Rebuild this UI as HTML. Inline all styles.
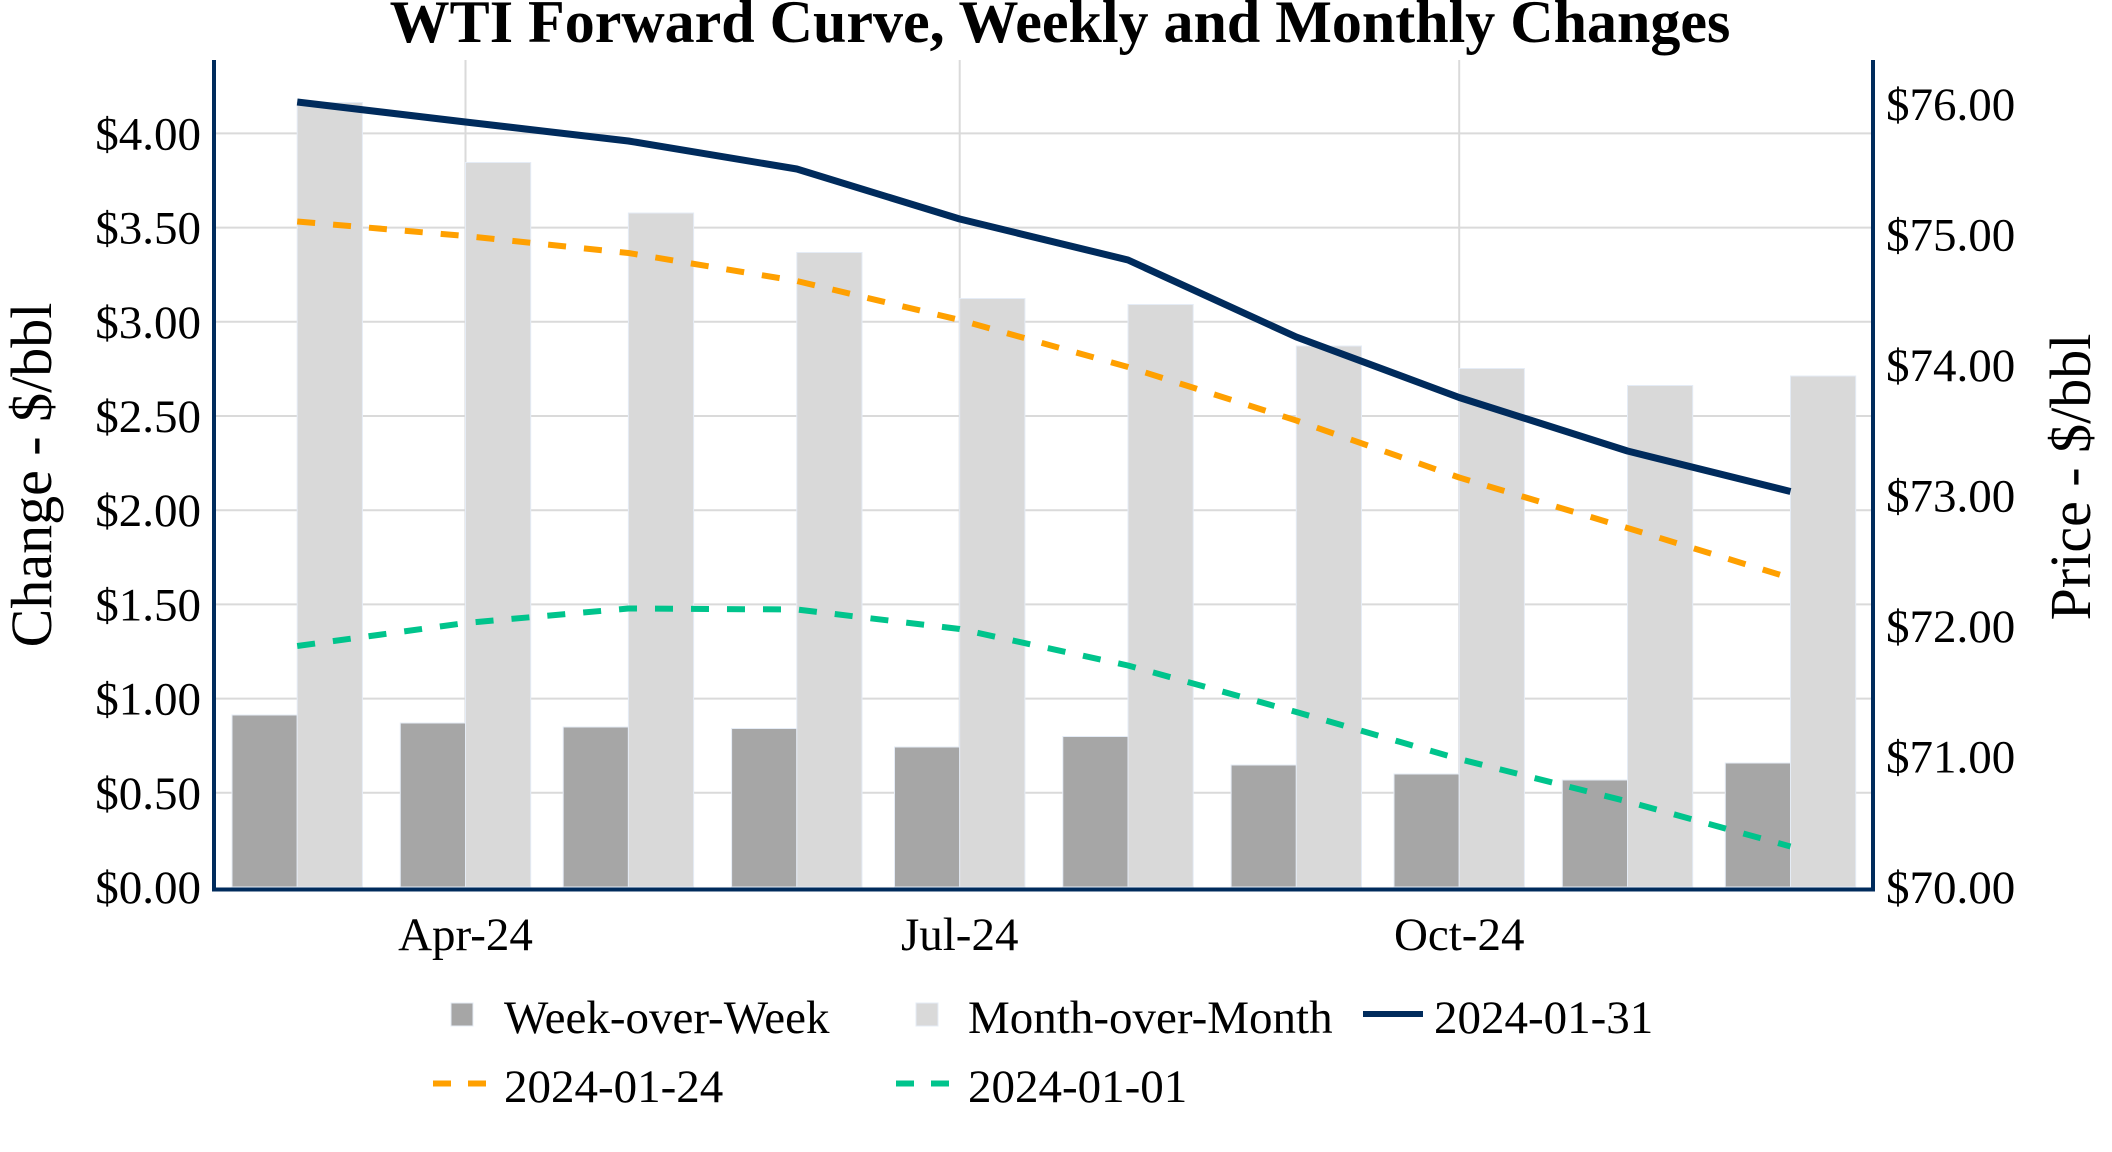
<!DOCTYPE html>
<html>
<head>
<meta charset="utf-8">
<style>
html,body{margin:0;padding:0;background:#fff;}
svg{display:block;}
text{font-family:"Liberation Serif","Times New Roman",serif;fill:#000;}
</style>
</head>
<body>
<svg id="chart" width="2112" height="1152" viewBox="0 0 2112 1152" xmlns="http://www.w3.org/2000/svg">
<rect x="0" y="0" width="2112" height="1152" fill="#ffffff"/>

<!-- Title -->
<text x="1060" y="42" text-anchor="middle" font-size="60" font-weight="bold">WTI Forward Curve, Weekly and Monthly Changes</text>

<!-- horizontal gridlines -->
<g stroke="#dadada" stroke-width="2">
<line x1="214" x2="1873" y1="792.8" y2="792.8"/>
<line x1="214" x2="1873" y1="698.6" y2="698.6"/>
<line x1="214" x2="1873" y1="604.4" y2="604.4"/>
<line x1="214" x2="1873" y1="510.2" y2="510.2"/>
<line x1="214" x2="1873" y1="416" y2="416"/>
<line x1="214" x2="1873" y1="321.8" y2="321.8"/>
<line x1="214" x2="1873" y1="227.6" y2="227.6"/>
<line x1="214" x2="1873" y1="133.4" y2="133.4"/>
<!-- vertical gridlines -->
<line x1="465.5" x2="465.5" y1="60" y2="887"/>
<line x1="959.7" x2="959.7" y1="60" y2="887"/>
<line x1="1459.2" x2="1459.2" y1="60" y2="887"/>
</g>

<!-- Week-over-Week bars -->
<g fill="#a6a6a6" stroke="#e5ecf6" stroke-width="1">
<rect x="232.0" y="715" width="65.2" height="172"/>
<rect x="400.3" y="723" width="65.2" height="164"/>
<rect x="563.2" y="727" width="65.2" height="160"/>
<rect x="731.6" y="728.5" width="65.2" height="158.5"/>
<rect x="894.5" y="747" width="65.2" height="140"/>
<rect x="1062.8" y="736.5" width="65.2" height="150.5"/>
<rect x="1231.1" y="765" width="65.2" height="122"/>
<rect x="1394.0" y="774" width="65.2" height="113"/>
<rect x="1562.3" y="780" width="65.2" height="107"/>
<rect x="1725.3" y="763" width="65.2" height="124"/>
</g>
<!-- Month-over-Month bars -->
<g fill="#d9d9d9" stroke="#e5ecf6" stroke-width="1">
<rect x="297.2" y="102.5" width="65.2" height="784.5"/>
<rect x="465.5" y="162.5" width="65.2" height="724.5"/>
<rect x="628.4" y="213" width="65.2" height="674"/>
<rect x="796.8" y="252.5" width="65.2" height="634.5"/>
<rect x="959.7" y="298.5" width="65.2" height="588.5"/>
<rect x="1128.0" y="304.5" width="65.2" height="582.5"/>
<rect x="1296.3" y="346" width="65.2" height="541"/>
<rect x="1459.2" y="368.5" width="65.2" height="518.5"/>
<rect x="1627.5" y="385.5" width="65.2" height="501.5"/>
<rect x="1790.5" y="376" width="65.2" height="511"/>
</g>

<!-- Lines -->
<polyline fill="none" stroke="#00c48c" stroke-width="6" stroke-dasharray="18,18" stroke-linejoin="round"
 points="297.2,646 465.5,623 628.4,608.5 796.8,609.5 959.7,629 1128,665.5 1296.3,712 1459.2,759 1627.5,801.5 1790.5,846.5"/>
<polyline fill="none" stroke="#ffa000" stroke-width="6" stroke-dasharray="18,18" stroke-linejoin="round"
 points="297.2,221.5 465.5,236 628.4,253 796.8,281 959.7,320 1128,367 1296.3,420.5 1459.2,477.5 1627.5,528 1790.5,578"/>
<polyline fill="none" stroke="#002b5c" stroke-width="7" stroke-linejoin="round"
 points="297.2,102 465.5,122 628.4,141 796.8,169 959.7,219 1128,260 1296.3,337 1459.2,397.5 1627.5,451 1790.5,491.5"/>

<!-- Axes -->
<g stroke="#002b5c" stroke-width="4" fill="none">
<line x1="214" y1="60" x2="214" y2="891.5"/>
<line x1="1873" y1="60" x2="1873" y2="891.5"/>
<line x1="212" y1="889.5" x2="1875" y2="889.5"/>
</g>

<!-- Left tick labels -->
<g font-size="47" text-anchor="end">
<text x="201" y="903">$0.00</text>
<text x="201" y="808.8">$0.50</text>
<text x="201" y="714.6">$1.00</text>
<text x="201" y="620.4">$1.50</text>
<text x="201" y="526.2">$2.00</text>
<text x="201" y="432">$2.50</text>
<text x="201" y="337.8">$3.00</text>
<text x="201" y="243.6">$3.50</text>
<text x="201" y="149.4">$4.00</text>
</g>

<!-- Right tick labels -->
<g font-size="47" text-anchor="start">
<text x="1886" y="903">$70.00</text>
<text x="1886" y="772.5">$71.00</text>
<text x="1886" y="642">$72.00</text>
<text x="1886" y="511.5">$73.00</text>
<text x="1886" y="381">$74.00</text>
<text x="1886" y="250.5">$75.00</text>
<text x="1886" y="120">$76.00</text>
</g>

<!-- X tick labels -->
<g font-size="47" text-anchor="middle">
<text x="465.5" y="950">Apr-24</text>
<text x="959.7" y="950">Jul-24</text>
<text x="1459.2" y="950">Oct-24</text>
</g>

<!-- Axis titles -->
<text x="51" y="475" font-size="58" text-anchor="middle" transform="rotate(-90 51 475)">Change - $/bbl</text>
<text x="2090" y="477" font-size="58" text-anchor="middle" transform="rotate(-90 2090 477)">Price - $/bbl</text>

<!-- Legend -->
<rect x="451" y="1003" width="22" height="23" fill="#a6a6a6" stroke="#e5ecf6" stroke-width="1"/>
<text x="504" y="1033" font-size="47">Week-over-Week</text>
<rect x="916" y="1003" width="22" height="23" fill="#d9d9d9" stroke="#e5ecf6" stroke-width="1"/>
<text x="968" y="1033" font-size="47">Month-over-Month</text>
<line x1="1363" y1="1014" x2="1423" y2="1014" stroke="#002b5c" stroke-width="6"/>
<text x="1434" y="1033" font-size="47">2024-01-31</text>

<line x1="433" y1="1083.5" x2="487" y2="1083.5" stroke="#ffa000" stroke-width="6" stroke-dasharray="18,17"/>
<text x="504" y="1102" font-size="47">2024-01-24</text>
<line x1="896" y1="1083.5" x2="950" y2="1083.5" stroke="#00c48c" stroke-width="6" stroke-dasharray="18,17"/>
<text x="968" y="1102" font-size="47">2024-01-01</text>
</svg>
</body>
</html>
